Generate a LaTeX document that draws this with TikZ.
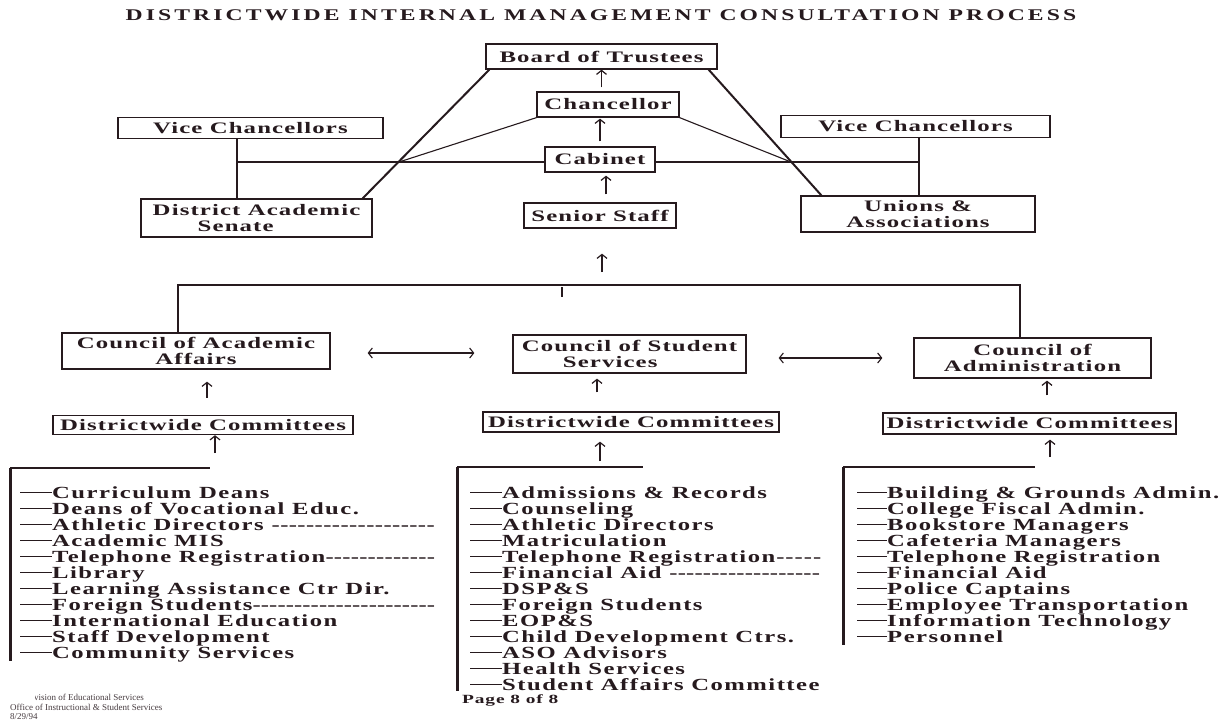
\documentclass[tikz,border=0pt]{standalone}
\usepackage{fontspec}
\setmainfont{Liberation Serif}
\newfontfamily\bxf[UprightFont={Liberation Serif Bold},BoldFont={Liberation Serif Bold},FakeStretch=1.55,LetterSpace=7]{Liberation Serif}
\newfontfamily\ttlf[UprightFont={Liberation Serif Bold},BoldFont={Liberation Serif Bold},FakeStretch=1.45,LetterSpace=19]{Liberation Serif}
\newfontfamily\lsf[UprightFont={Liberation Serif Bold},BoldFont={Liberation Serif Bold},FakeStretch=1.45,LetterSpace=8.7]{Liberation Serif}
\usetikzlibrary{arrows.meta,calc}
\definecolor{ink}{RGB}{38,26,30}
\newcommand\ld{\rule[4.6pt]{32pt}{1.4pt}}
\newcommand\ldr{\rule[4.6pt]{30pt}{1.4pt}}
\newcommand\dfill[2]{\makebox[#1][l]{#2\xleaders\hbox{-}\hfill}}
\tikzset{
  box/.style={draw=ink, line width=1.3pt, fill=white, inner sep=0pt, text=ink,
    font=\bxf\fontsize{16}{16}\selectfont, align=center},
  tip/.tip={Straight Barb[length=4pt,width=10pt]},
  arr/.style={draw=ink, line width=1.2pt, -tip},
  darr/.style={draw=ink, line width=1.1pt, tip-tip},
  heavy/.style={draw=ink, line width=2pt},
  thin/.style={draw=ink, line width=1.1pt},
  brk/.style={draw=ink, line width=2.4pt},
  vbar/.style={draw=ink, line width=3pt},
  hbar/.style={draw=ink, line width=2pt},
  item/.style={anchor=base west, inner sep=0pt, text=ink,
    font=\lsf\fontsize{17}{17}\selectfont},
  foot/.style={anchor=base west, inner sep=0pt, text=ink!85,
    font=\fontsize{9}{10}\selectfont},
}
\begin{document}
\begin{tikzpicture}[x=1pt,y=-1pt]
\fill[white] (0,0) rectangle (1225,721);
\useasboundingbox (0,0) rectangle (1225,721);

% title
\node[text=ink, inner sep=0pt, font=\ttlf\fontsize{16.3}{18}\selectfont] (title) at (601,15.5)
  {DISTRICTWIDE INTERNAL MANAGEMENT CONSULTATION PROCESS};

% helper coordinates
\coordinate (vl) at (237,162);
\coordinate (vr) at (919,162);
\coordinate (xl) at (399,162);
\coordinate (xr) at (791,162);

% top boxes
\node[box, minimum width=231pt, minimum height=25pt] (board) at (601.5,56.5) {Board of Trustees};
\node[box, minimum width=142pt, minimum height=25pt] (chan) at (608,104.5) {Chancellor};
\node[box, minimum width=265pt, minimum height=21pt] (vcl) at (250.5,128) {Vice Chancellors};
\node[box, minimum width=269pt, minimum height=22pt] (vcr) at (915.5,126.5) {Vice Chancellors};
\node[box, minimum width=231pt, minimum height=38pt, align=left] (das) at (256.5,218)
  {District Academic\\\hspace*{45pt}Senate};
\node[box, minimum width=152pt, minimum height=25pt] (ss) at (600,215.5) {Senior Staff};
\node[box, minimum width=234pt, minimum height=36pt] (ua) at (918,214) {Unions \&\\Associations};

% connectors (drawn before cabinet so cabinet hides the line)
\draw[thin] (vl) -- (vr);
\draw[heavy] (vl |- vcl.south) -- (vl |- das.north);
\draw[heavy] (vr |- vcr.south) -- (vr |- ua.north);
\draw[heavy] ($(board.south west)+(4,0)$) -- ($(das.north east)+(-10,0)$);
\draw[heavy] ($(board.south east)+(-9,0)$) -- ($(ua.north west)+(21,0)$);
\draw[thin] (chan.south west) -- (xl);
\draw[thin] (chan.south east) -- (xr);

\node[box, minimum width=110pt, minimum height=25pt] (cab) at (600,159.5) {Cabinet};

\draw[arr, shorten <=4pt] (chan.north -| board.south) -- (board.south);
\draw[arr, shorten <=5pt, shorten >=1pt] (cab.north) -- (cab.north |- chan.south);
\draw[arr, shorten <=8pt, shorten >=3pt] ([xshift=6pt]ss.north) -- ([xshift=6pt]ss.north |- cab.south);

% bracket to councils
\coordinate (bl) at (178,285);
\coordinate (br) at (1020,285);
\coordinate (bt) at (602,285);
\coordinate (tick) at (562,287);

\node[box, minimum width=268pt, minimum height=36pt] (caa) at (196,351) {Council of Academic\\Affairs};
\node[box, minimum width=233pt, minimum height=38pt, align=left] (css) at (629.5,354)
  {Council of Student\\\hspace*{41pt}Services};
\node[box, minimum width=237pt, minimum height=40pt] (cadm) at (1032.5,358) {Council of\\Administration};

\draw[brk] (caa.north -| bl) -- (bl) -- (br) -- (cadm.north -| br);
\draw[thin] (tick) -- ++(0,10);
\draw[arr, shorten <=13pt, shorten >=25pt] (bt) -- (bt |- ss.south);

\draw[darr, shorten <=37pt, shorten >=38pt] ([yshift=-2pt]caa.east) -- ([yshift=-2pt]caa.east -| css.west);
\draw[darr, shorten <=32pt, shorten >=31pt] ([yshift=-4pt]css.east) -- ([yshift=-4pt]css.east -| cadm.west);

% districtwide committees
\node[box, minimum width=300pt, minimum height=19pt] (dc1) at (203,425) {Districtwide Committees};
\node[box, minimum width=296pt, minimum height=20pt] (dc2) at (631,422) {Districtwide Committees};
\node[box, minimum width=293pt, minimum height=21pt] (dc3) at (1029.5,423.5) {Districtwide Committees};

\draw[arr, shorten <=17pt, shorten >=12pt] ([xshift=4pt]dc1.north) -- ([xshift=4pt]dc1.north |- caa.south);
\draw[arr, shorten <=19pt, shorten >=5pt] ([xshift=-34pt]dc2.north) -- ([xshift=-34pt]dc2.north |- css.south);
\draw[arr, shorten <=17pt, shorten >=2pt] ([xshift=17.5pt]dc3.north) -- ([xshift=17.5pt]dc3.north |- cadm.south);

\coordinate (a1) at (215,453);
\coordinate (a2) at (600,461);
\coordinate (a3) at (1050,457);
\draw[arr] (a1) -- (a1 |- dc1.south);
\draw[arr, shorten >=9pt] (a2) -- (a2 |- dc2.south);
\draw[arr, shorten >=5pt] (a3) -- (a3 |- dc3.south);

% list brackets
\coordinate (p1) at (10,468);
\coordinate (p2) at (457,467);
\coordinate (p3) at (843,467);
\draw[hbar] (p1) -- ++(200,0);
\draw[vbar] (p1) -- ++(0,193);
\draw[hbar] (p2) -- ++(186,0);
\draw[vbar] (p2) -- ++(0,224);
\draw[hbar] (p3) -- ++(192,0);
\draw[vbar] (p3) -- ++(0,178);

% left list
\foreach \t [count=\i from 0] in {Curriculum Deans, Deans of Vocational Educ.,
  {\dfill{383pt}{Athletic Directors }}, Academic MIS, {\dfill{383pt}{Telephone Registration}},
  Library, Learning Assistance Ctr Dir., {\dfill{383pt}{Foreign Students}},
  International Education, Staff Development, Community Services}
  \node[item] (la\i) at (20,{498+16*\i}) {\ld\t};

% centre list
\foreach \t [count=\i from 0] in {Admissions \& Records, Counseling, Athletic Directors,
  Matriculation, {\dfill{320pt}{Telephone Registration}}, {\dfill{318pt}{Financial Aid }},
  DSP\&S, Foreign Students, EOP\&S, Child Development Ctrs., ASO Advisors,
  Health Services, Student Affairs Committee}
  \node[item] (lb\i) at (470,{498+16*\i}) {\ld\t};

% right list
\foreach \t [count=\i from 0] in {Building \& Grounds Admin., College Fiscal Admin.,
  Bookstore Managers, Cafeteria Managers, Telephone Registration, Financial Aid,
  Police Captains, Employee Transportation, Information Technology, Personnel}
  \node[item] (lc\i) at (857,{498+16*\i}) {\ldr\t};

% footer
\node[anchor=base west, inner sep=0pt, text=ink, font=\bxf\fontsize{12.5}{12.5}\selectfont]
  (page) at (462,703) {Page 8 of 8};
\begin{scope}
  \clip (35,688) rectangle (300,703);
  \node[foot] (f1) at (25,700) {Division of Educational Services};
\end{scope}
\node[foot] (f2) at (10,710) {Office of Instructional \& Student Services};
\node[foot] (f3) at (10,719.5) {8/29/94};
\end{tikzpicture}
\end{document}
